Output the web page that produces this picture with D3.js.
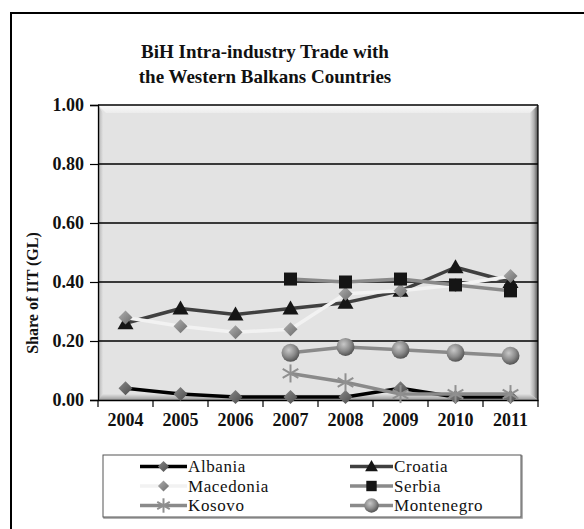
<!DOCTYPE html>
<html><head><meta charset="utf-8">
<script src="https://cdn.jsdelivr.net/npm/d3@7"></script>
<style>body{margin:0;background:#fff;}svg{display:block;}</style>
</head><body>
<script>
const years = ["2004","2005","2006","2007","2008","2009","2010","2011"];
const albania    = [0.04,0.02,0.01,0.01,0.01,0.04,0.01,0.01];
const croatia    = [0.26,0.31,0.29,0.31,0.33,0.37,0.45,0.40];
const macedonia  = [0.28,0.25,0.23,0.24,0.36,0.37,0.39,0.42];
const serbia     = [null,null,null,0.41,0.40,0.41,0.39,0.37];
const kosovo     = [null,null,null,0.09,0.06,0.02,0.02,0.02];
const montenegro = [null,null,null,0.16,0.18,0.17,0.16,0.15];
const yTicks = [0,0.2,0.4,0.6,0.8,1.0];
const titleLines = ["BiH Intra-industry Trade with","the Western Balkans Countries"];

const series = [
  {name:"Albania", values:albania, line:"#000000", marker:"diamondA", mfill:"url(#gDiaDark)"},
  {name:"Croatia", values:croatia, line:"#404040", marker:"triangle", mfill:"#161616"},
  {name:"Macedonia", values:macedonia, line:"#f2f2f2", marker:"diamond", mfill:"url(#gDia)"},
  {name:"Serbia", values:serbia, line:"#8a8a8a", marker:"square", mfill:"#151515"},
  {name:"Kosovo", values:kosovo, line:"#8a8a8a", marker:"star", mfill:"#909090"},
  {name:"Montenegro", values:montenegro, line:"#8a8a8a", marker:"circle", mfill:"url(#gBall)"}
];
const FONT="'Liberation Serif','Times New Roman',Times,'DejaVu Serif',serif";

const W=584,H=529;
const svg=d3.select("body").append("svg").attr("width",W).attr("height",H);
const defs=svg.append("defs");
function lin(id,x1,y1,x2,y2,stops){const g=defs.append("linearGradient").attr("id",id).attr("x1",x1).attr("y1",y1).attr("x2",x2).attr("y2",y2);stops.forEach(s=>g.append("stop").attr("offset",s[0]).attr("stop-color",s[1]));}
lin("gTop",0,0,0,1,[[0,"#fafafa"],[1,"#ececec"]]);
lin("gLeft",0,0,1,0,[[0,"#8a8a8a"],[0.5,"#c8c8c8"],[1,"#e2e2e2"]]);
lin("gRight",0,0,1,0,[[0,"#e2e2e2"],[0.5,"#b0b0b0"],[1,"#505050"]]);
lin("gBottom",0,0,0,1,[[0,"#e2e2e2"],[1,"#9a9a9a"]]);
const rb=defs.append("radialGradient").attr("id","gBall").attr("cx","0.4").attr("cy","0.35").attr("r","0.65");
rb.append("stop").attr("offset",0).attr("stop-color","#c8c8c8");
rb.append("stop").attr("offset",0.6).attr("stop-color","#8a8a8a");
rb.append("stop").attr("offset",1).attr("stop-color","#555");
lin("gDia",0,0,1,1,[[0,"#b0b0b0"],[1,"#6a6a6a"]]);
lin("gDiaDark",0,0,1,1,[[0,"#8a8a8a"],[1,"#4a4a4a"]]);

// outer frame
svg.append("rect").attr("x",11).attr("y",13).attr("width",W+40).attr("height",H+40).attr("fill","#fff").attr("stroke","#000").attr("stroke-width",2);

const L=98,R=538,T=105,B=400;
const x=d3.scaleBand().domain(years).range([L,R]);
const y=d3.scaleLinear().domain([0,1]).range([B,T]);

// plot area with bevel
svg.append("rect").attr("x",L).attr("y",T).attr("width",R-L).attr("height",B-T).attr("fill","#e3e3e3");
const bw=8;
svg.append("polygon").attr("points",`${L},${T} ${R},${T} ${R-bw},${T+bw} ${L+bw},${T+bw}`).attr("fill","url(#gTop)");
svg.append("polygon").attr("points",`${L},${T} ${L+5},${T+bw} ${L+5},${B-5} ${L},${B}`).attr("fill","url(#gLeft)");
svg.append("polygon").attr("points",`${R},${T} ${R},${B} ${R-bw},${B-6} ${R-bw},${T+bw}`).attr("fill","url(#gRight)");
svg.append("polygon").attr("points",`${L},${B} ${R},${B} ${R-bw},${B-6} ${L+5},${B-6}`).attr("fill","url(#gBottom)");

// gridlines
svg.append("g").selectAll("line").data(yTicks.filter(d=>d>0)).join("line")
  .attr("x1",L).attr("x2",R).attr("y1",d=>y(d)).attr("y2",d=>y(d)).attr("stroke","#000").attr("stroke-width",1.6);
svg.append("line").attr("x1",R).attr("x2",R).attr("y1",T).attr("y2",B).attr("stroke","#000").attr("stroke-width",1.2);

// y axis
const yAxis=svg.append("g").attr("transform",`translate(${L},0)`)
  .call(d3.axisLeft(y).tickValues(yTicks).tickFormat(d3.format(".2f")).tickSize(8).tickPadding(6));
yAxis.select(".domain").attr("stroke","#000").attr("stroke-width",1.3);
yAxis.selectAll(".tick line").attr("stroke","#000").attr("stroke-width",1.2);
yAxis.selectAll("text").style("font-family",FONT).attr("font-weight","bold").attr("font-size",18).attr("fill","#111");

// x axis
const xAxis=svg.append("g").attr("transform",`translate(0,${B})`)
  .call(d3.axisBottom(x).tickSize(0).tickPadding(13));
xAxis.select(".domain").attr("stroke","#000").attr("stroke-width",1.3);
xAxis.selectAll("text").style("font-family",FONT).attr("font-weight","bold").attr("font-size",18).attr("fill","#111");
svg.append("g").selectAll("line").data(d3.range(years.length+1)).join("line")
  .attr("x1",i=>L+i*x.bandwidth()).attr("x2",i=>L+i*x.bandwidth())
  .attr("y1",B).attr("y2",B+7).attr("stroke","#000").attr("stroke-width",1.2);

// title
svg.append("g").selectAll("text").data(titleLines).join("text")
  .attr("x",265).attr("y",(d,i)=>58+i*25).attr("text-anchor","middle")
  .style("font-family",FONT).attr("font-weight","bold").attr("font-size",19).attr("fill","#111").text(d=>d);

// y title
svg.append("text").attr("transform","translate(38,293) rotate(-90)").attr("text-anchor","middle")
  .style("font-family",FONT).attr("font-weight","bold").attr("font-size",16).attr("fill","#111").text("Share of IIT (GL)");

function drawMarker(g,type,fill,cx,cy,scale){
  scale=scale||1;
  if(type==="diamond"||type==="diamondA"){
    const s=7*scale;
    g.append("path").attr("d",`M${cx},${cy-s}L${cx+s},${cy}L${cx},${cy+s}L${cx-s},${cy}Z`).attr("fill",fill);
  } else if(type==="triangle"){
    const s=8*scale;
    g.append("path").attr("d",`M${cx},${cy-s}L${cx+s},${cy+s*0.75}L${cx-s},${cy+s*0.75}Z`).attr("fill",fill);
  } else if(type==="square"){
    const s=6.5*scale;
    g.append("rect").attr("x",cx-s).attr("y",cy-s).attr("width",2*s).attr("height",2*s).attr("fill",fill);
  } else if(type==="star"){
    const s=9*scale;
    const p=[[0,-s,0,s],[-s*0.87,-s*0.5,s*0.87,s*0.5],[-s*0.87,s*0.5,s*0.87,-s*0.5]];
    p.forEach(q=>g.append("line").attr("x1",cx+q[0]).attr("y1",cy+q[1]).attr("x2",cx+q[2]).attr("y2",cy+q[3]).attr("stroke",fill).attr("stroke-width",2));
  } else if(type==="circle"){
    g.append("circle").attr("cx",cx).attr("cy",cy).attr("r",9*scale).attr("fill",fill);
  }
}

const line=d3.line().defined(d=>d.v!=null).x(d=>x(d.year)+x.bandwidth()/2).y(d=>y(d.v));
series.forEach(s=>{
  const pts=years.map((yr,i)=>({year:yr,v:s.values[i]}));
  const g=svg.append("g");
  g.append("path").datum(pts).attr("d",line).attr("fill","none").attr("stroke",s.line).attr("stroke-width",3.5).attr("stroke-linejoin","round");
  pts.filter(p=>p.v!=null).forEach(p=>drawMarker(g,s.marker,s.mfill,x(p.year)+x.bandwidth()/2,y(p.v)));
});

// legend
svg.append("rect").attr("x",104).attr("y",456).attr("width",418).attr("height",62).attr("fill","none").attr("stroke","#999").attr("stroke-width",1.5);
svg.append("rect").attr("x",103).attr("y",455).attr("width",418).attr("height",62).attr("fill","#fff").attr("stroke","#555").attr("stroke-width",1);
const lg=svg.append("g");
series.forEach((s,i)=>{
  const col=i%2, row=Math.floor(i/2);
  const x0=col===0?140:350, x1=col===0?187:393, cy=466.5+row*19.5;
  lg.append("line").attr("x1",x0).attr("x2",x1).attr("y1",cy).attr("y2",cy).attr("stroke",s.line).attr("stroke-width",3.5);
  drawMarker(lg,s.marker,s.mfill,(x0+x1)/2,cy,0.8);
  lg.append("text").attr("x",x1+1).attr("y",cy+5.5).style("font-family",FONT).attr("font-size",17).attr("letter-spacing",0.6).attr("fill","#111").text(s.name);
});
</script>
</body></html>
